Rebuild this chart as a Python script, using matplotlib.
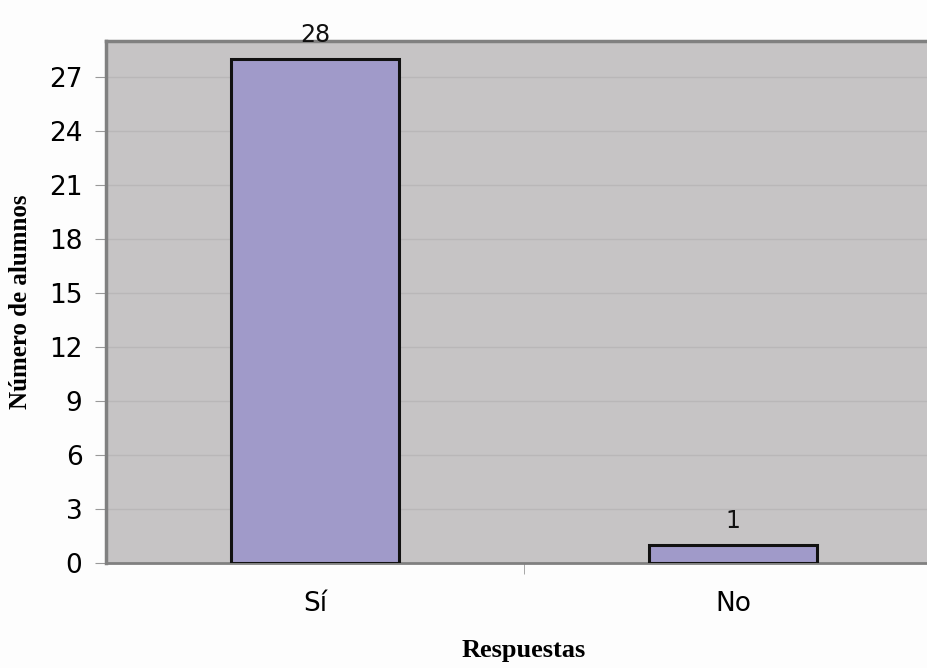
import matplotlib.pyplot as plt
from matplotlib.ticker import FixedLocator

respuestas = ["Sí", "No"]
alumnos = [28, 1]
y_ticks = list(range(0, 28, 3))

fig = plt.figure(figsize=(9.27, 6.68), dpi=100)
fig.patch.set_facecolor("#fdfdfd")
# the plot area runs past the right edge of the figure
ax = fig.add_axes([106 / 927, 1 - 563 / 668, 836 / 927, 522 / 668])
ax.set_facecolor("#c6c4c5")

pos = list(range(len(respuestas)))
bars = ax.bar(pos, alumnos, width=0.4, color="#a09ac9",
              edgecolor="#111111", linewidth=2.2, zorder=3)
for b, v in zip(bars, alumnos):
    ax.annotate(str(v), (b.get_x() + b.get_width() / 2, v),
                xytext=(0, 9), textcoords="offset points",
                ha="center", va="bottom", fontsize=17, color="#111111",
                family="DejaVu Sans")

ax.set_xlim(-0.5, 1.5)
ax.set_ylim(0, 29)
ax.set_yticks(y_ticks)
ax.yaxis.grid(True, color="#b9b7b8", linewidth=1, zorder=0)
ax.set_xticks(pos)
ax.set_xticklabels(respuestas, fontsize=19, family="DejaVu Sans")
ax.xaxis.set_minor_locator(FixedLocator([0.5]))
ax.tick_params(axis="x", which="major", length=0, pad=20)
ax.tick_params(axis="x", which="minor", length=8, color="#999999")
ax.tick_params(axis="y", length=8, color="#999999", labelsize=19, pad=9)
for lbl in ax.get_yticklabels():
    lbl.set_family("DejaVu Sans")

for side in ("left", "top"):
    ax.spines[side].set_color("#808080")
    ax.spines[side].set_linewidth(2.5)
ax.spines["bottom"].set_color("#808080")
ax.spines["bottom"].set_linewidth(2)
ax.spines["right"].set_visible(False)

ax.set_xlabel("Respuestas", family="Liberation Serif", fontweight="bold",
              fontsize=19, labelpad=16)
ax.set_ylabel("Número de alumnos", family="Liberation Serif",
              fontweight="bold", fontsize=18)
ax.yaxis.set_label_coords(-0.088, 0.5)

fig.savefig("out.png", dpi=100, facecolor=fig.get_facecolor())
